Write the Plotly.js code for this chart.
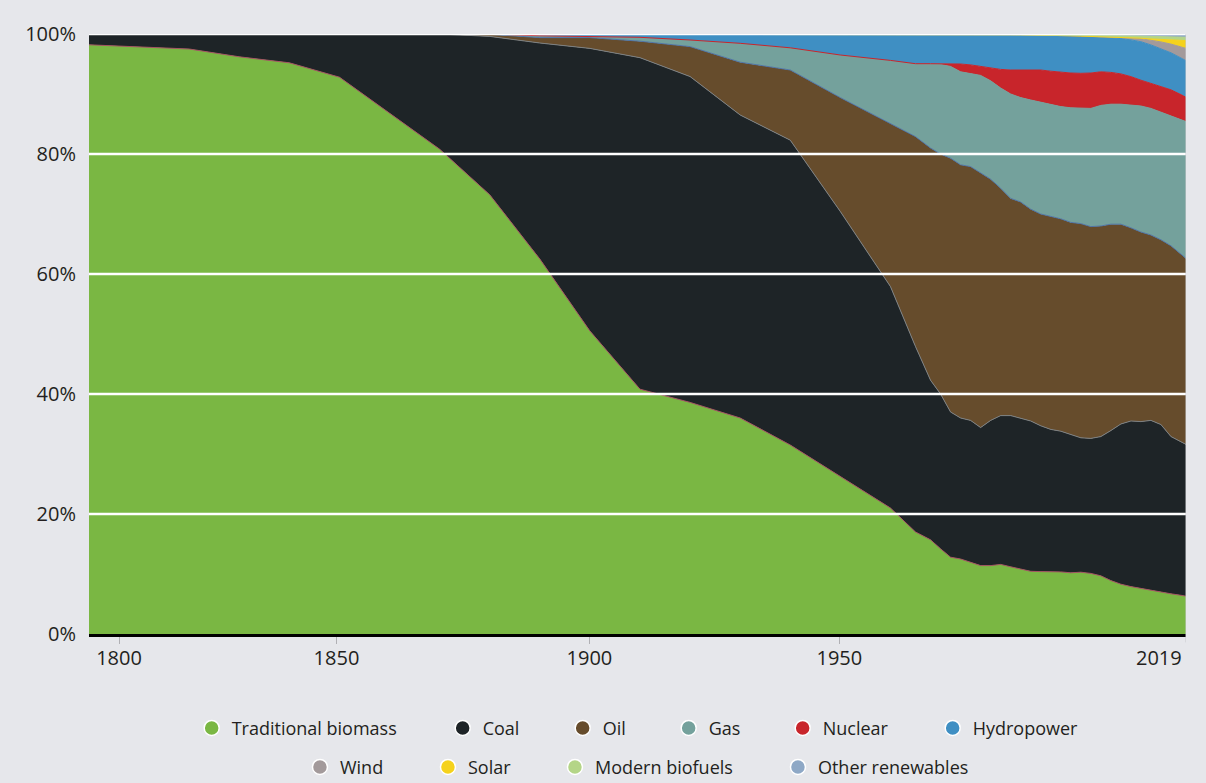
<!DOCTYPE html>
<html>
<head>
<meta charset="utf-8">
<script src="https://cdn.plot.ly/plotly-3.0.1.min.js"></script>
<style>
  html, body { margin: 0; padding: 0; background: #e6e7eb; }
  #chart { width: 1206px; height: 783px; }
</style>
</head>
<body>
<div id="chart"></div>
<script>
// ---- Data (share of total primary energy, %) ----
const years = [1800,1810,1820,1830,1840,1850,1860,1870,1880,1890,1900,1910,1920,1930,1940,1950,1960,1965,1968,
  1970,1972,1974,1976,1978,1980,1982,1984,1986,1988,1990,1992,1994,1996,1998,2000,2002,2004,2006,2008,2010,2012,2014,2016,2018,2019];

const traditionalBiomass = [98.2,97.9,97.5,96.2,95.2,92.8,86.8,80.8,73.2,62.5,50.5,40.8,38.6,36.0,31.5,26.2,21.0,17.0,15.7,
  14.2,12.8,12.5,12.0,11.4,11.4,11.6,11.2,10.8,10.45,10.4,10.4,10.35,10.2,10.3,10.1,9.7,8.9,8.3,7.9,7.6,7.2,6.9,6.7,6.45,6.3];

const coal = [1.8,2.1,2.5,3.8,4.8,7.2,13.2,19.2,26.4,36.0,47.1,55.25,54.3,50.5,50.8,44.2,36.9,30.9,26.6,
  25.8,24.2,23.5,23.6,23.0,24.2,24.8,25.2,25.2,25.05,24.3,23.7,23.45,23.0,22.4,22.5,23.2,25.0,26.7,27.6,27.8,28.4,28.0,26.2,25.55,25.3];

const oil = [0,0,0,0,0,0,0,0,0.35,0.9,1.8,2.75,5.0,8.8,11.7,19.0,27.1,35.0,38.7,
  40.0,42.3,42.2,42.3,42.4,40.2,37.9,36.2,36.0,35.3,35.3,35.5,35.4,35.4,35.7,35.3,35.1,34.4,33.3,32.2,31.6,30.9,30.8,31.8,31.3,31.0];

const gas = [0,0,0,0,0,0,0,0,0.05,0.3,0.2,0.65,1.1,3.15,3.7,7.1,10.6,12.1,13.95,
  14.9,15.3,15.5,15.5,16.3,16.4,16.7,17.4,17.4,18.2,18.6,18.7,18.7,19.1,19.2,19.7,20.1,20.0,20.0,20.5,21.0,21.1,21.3,21.6,22.4,22.8];

const nuclear = [0,0,0,0,0,0,0,0,0,0,0,0,0,0,0,0,0,0.05,0.1,
  0.15,0.5,1.3,1.45,1.5,2.2,3.1,4.0,4.6,5.1,5.4,5.5,5.7,5.8,5.85,5.9,5.6,5.3,5.05,4.7,4.3,4.2,4.3,4.4,4.2,4.05];

const hydropower = [0,0,0,0,0,0,0,0,0,0.3,0.4,0.55,1.0,1.55,2.3,3.5,4.4,4.9,4.9,
  4.9,4.84,4.93,5.07,5.31,5.5,5.79,5.88,5.87,5.76,5.8,5.97,6.14,6.2,6.2,6.05,5.79,5.79,5.89,6.12,6.42,6.38,6.28,6.17,6.1,6.1];

const wind = [0,0,0,0,0,0,0,0,0,0,0,0,0,0,0,0,0,0,0,
  0,0,0,0,0,0,0,0,0,0,0,0,0,0,0,0.05,0.07,0.12,0.2,0.33,0.5,0.8,1.1,1.45,1.85,2.05];

const solar = [0,0,0,0,0,0,0,0,0,0,0,0,0,0,0,0,0,0,0,
  0,0,0,0,0,0,0,0,0,0,0,0,0,0,0,0,0,0,0,0.02,0.08,0.2,0.4,0.7,1.1,1.3];

const modernBiofuels = [0,0,0,0,0,0,0,0,0,0,0,0,0,0,0,0,0,0,0,
  0,0,0,0,0,0,0,0,0,0,0.05,0.06,0.07,0.09,0.12,0.15,0.17,0.2,0.25,0.3,0.35,0.42,0.47,0.5,0.53,0.55];

const otherRenewables = [0,0,0,0,0,0,0,0,0,0,0,0,0,0,0,0,0,0.05,0.05,
  0.05,0.06,0.07,0.08,0.09,0.1,0.11,0.12,0.13,0.14,0.15,0.17,0.19,0.21,0.23,0.25,0.27,0.29,0.31,0.33,0.35,0.4,0.45,0.48,0.52,0.55];

const seriesNames = ['Traditional biomass','Coal','Oil','Gas','Nuclear','Hydropower','Wind','Solar','Modern biofuels','Other renewables'];
const seriesValues = [traditionalBiomass, coal, oil, gas, nuclear, hydropower, wind, solar, modernBiofuels, otherRenewables];

const yTicks = [0,20,40,60,80,100];
const xTickLabels = ['1800','1850','1900','1950','2019'];

// ---- Styles ----
const fillColors = ['#7ab743','#1e2427','#664c2c','#74a19c','#c8252b','#3f8fc3','#a39a9b','#f5d21c','#b4d587','#8ea8c6'];
const edgeColors = ['#a45560','#7c8082','#4f74a6','#74a19c','#c8252b','#3f8fc3','#a39a9b','#f5d21c','#b4d587','#8ea8c6'];
const xTickPositions = [1806, 1849.4, 1899.9, 1949.8];   // where the reference places the first four labels
const legendRow = [1,1,1,1,1,1,2,2,2,2];
const legendWidths = [206,75,61,69,105,110,83,82,178,160];

const traces = [];
seriesNames.forEach((name, i) => {
  const t = {
    type: 'scatter', mode: 'lines', x: years, y: seriesValues[i], name: name,
    stackgroup: 'energy', fillcolor: fillColors[i],
    line: { color: edgeColors[i], width: 1, shape: 'linear' },
    showlegend: false, hoverinfo: 'skip'
  };
  if (i === 0) t.groupnorm = 'percent';
  traces.push(t);
});
// Legend entries (circle markers like the reference)
seriesNames.forEach((name, i) => {
  traces.push({
    type: 'scatter', mode: 'markers', x: [null], y: [null], name: name,
    marker: { color: fillColors[i], size: 15, line: { color: '#ffffff', width: 1.5 } },
    legend: legendRow[i] === 1 ? 'legend' : 'legend2',
    legendwidth: legendWidths[i], hoverinfo: 'skip', showlegend: true
  });
});

const shapes = yTicks.filter(v => v > 0).map(v => ({
  type: 'line', xref: 'paper', x0: 0, x1: 1, yref: 'y', y0: v, y1: v,
  line: { color: '#ffffff', width: 2.6 }, layer: 'above'
}));
shapes.push({ type: 'line', xref: 'x', x0: years[years.length-1], x1: years[years.length-1],
  yref: 'paper', y0: -0.014, y1: 1, line: { color: '#c9c9cd', width: 1 }, layer: 'above' });

const fontFamily = '"Open Sans", "Liberation Sans", sans-serif';
const textColor = '#231f20';

const layout = {
  width: 1206, height: 783,
  margin: { l: 89, r: 20, t: 34, b: 149, autoexpand: false },
  paper_bgcolor: '#e6e7eb', plot_bgcolor: '#e6e7eb',
  font: { family: fontFamily, color: textColor, size: 20 },
  xaxis: {
    range: [years[0], years[years.length-1]], showgrid: false, zeroline: false,
    tickmode: 'array', tickvals: xTickPositions, ticktext: xTickLabels.slice(0, 4),
    ticks: 'outside', ticklen: 7, tickwidth: 1, tickcolor: '#b0b0b4', ticklabelstandoff: -3,
    showline: true, linecolor: '#000000', linewidth: 3, layer: 'above traces', automargin: false,
    tickfont: { size: 20, family: fontFamily, color: textColor }, fixedrange: true
  },
  yaxis: {
    range: [0, 100], showgrid: false, zeroline: false, showline: false,
    tickmode: 'array', tickvals: yTicks, ticktext: yTicks.map(v => v + '%'),
    ticks: '', ticklabelstandoff: 12, automargin: false,
    tickfont: { size: 20, family: fontFamily, color: textColor }, fixedrange: true
  },
  shapes: shapes,
  annotations: [{
    xref: 'x', x: years[years.length-1], yref: 'paper', y: 0, xanchor: 'right', yanchor: 'top',
    yshift: -8, xshift: -2, text: xTickLabels[4], showarrow: false,
    font: { size: 20, family: fontFamily, color: textColor }
  }],
  legend: {
    orientation: 'h', x: 0.0936, xanchor: 'left', y: -0.157, yanchor: 'middle',
    font: { size: 18, family: fontFamily, color: textColor }, bgcolor: 'rgba(0,0,0,0)',
    traceorder: 'normal', itemclick: false, itemdoubleclick: false
  },
  legend2: {
    orientation: 'h', x: 0.1923, xanchor: 'left', y: -0.222, yanchor: 'middle',
    font: { size: 18, family: fontFamily, color: textColor }, bgcolor: 'rgba(0,0,0,0)',
    traceorder: 'normal', itemclick: false, itemdoubleclick: false
  },
  showlegend: true
};

Plotly.newPlot('chart', traces, layout, { displayModeBar: false, staticPlot: true });
</script>
</body>
</html>
